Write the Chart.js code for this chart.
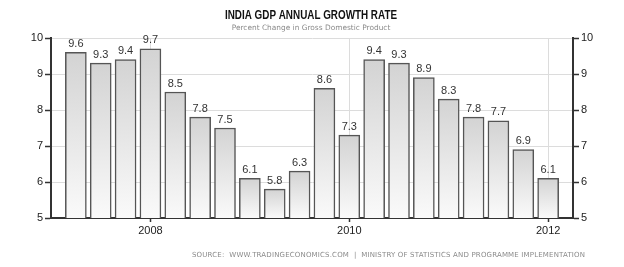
<!DOCTYPE html>
<html lang="en">
<head>
  <meta charset="UTF-8">
  <title>India GDP Annual Growth Rate</title>
  <script src="https://cdn.jsdelivr.net/npm/chart.js@4"></script>
  <style>
    * { margin: 0; padding: 0; box-sizing: border-box; }
    body { background: #fff; width: 624px; height: 267px; overflow: hidden; }
    canvas { display: block; }
  </style>
</head>
<body>
  <canvas id="gdp" width="624" height="267"></canvas>

  <script>
    const titleText = 'INDIA GDP ANNUAL GROWTH RATE'
    const subtitleText = 'Percent Change in Gross Domestic Product'
    const sourceText = 'SOURCE:  WWW.TRADINGECONOMICS.COM  |  MINISTRY OF STATISTICS AND PROGRAMME IMPLEMENTATION'

    const quarters = [
      '2007 Q2', '2007 Q3', '2007 Q4',
      '2008 Q1', '2008 Q2', '2008 Q3', '2008 Q4',
      '2009 Q1', '2009 Q2', '2009 Q3', '2009 Q4',
      '2010 Q1', '2010 Q2', '2010 Q3', '2010 Q4',
      '2011 Q1', '2011 Q2', '2011 Q3', '2011 Q4',
      '2012 Q1'
    ]
    const growth = [9.6, 9.3, 9.4, 9.7, 8.5, 7.8, 7.5, 6.1, 5.8, 6.3, 8.6, 7.3, 9.4, 9.3, 8.9, 8.3, 7.8, 7.7, 6.9, 6.1]
    const yearTicks = ['2008', '2010', '2012']
    const yTicks = [5, 6, 7, 8, 9, 10]

    const yearIdx = yearTicks.map(y => quarters.indexOf(y + ' Q1'))

    const barFill = ctx => {
      const chart = ctx.chart
      const ys = chart.scales.y
      if (!chart.chartArea || !ys) return '#e0e0e0'
      const top = ys.getPixelForValue(growth[ctx.dataIndex])
      const g = chart.ctx.createLinearGradient(0, top, 0, chart.chartArea.bottom)
      g.addColorStop(0, '#d3d3d3')
      g.addColorStop(1, '#fafafa')
      return g
    }

    // pick the font size that makes the text fill the given width
    const fitFont = (c, text, weight, family, width) => {
      let size = 14
      c.font = `${weight} ${size}px ${family}`
      size = size * width / c.measureText(text).width
      c.font = `${weight} ${size}px ${family}`
    }

    const labelsPlugin = {
      id: 'texts',
      afterDatasetsDraw(chart) {
        const c = chart.ctx
        const meta = chart.getDatasetMeta(0)
        c.save()
        c.font = '11px "Liberation Sans", Arial, sans-serif'
        c.fillStyle = '#333'
        c.textAlign = 'center'
        c.textBaseline = 'bottom'
        meta.data.forEach((bar, i) => {
          c.fillText(growth[i].toFixed(1), bar.x, bar.y - 3)
        })
        c.restore()
      },
      afterDraw(chart) {
        const c = chart.ctx
        c.save()
        c.textAlign = 'center'
        c.textBaseline = 'middle'
        c.fillStyle = '#111'
        // title: 12px bold, squeezed sideways to the narrow width of the original
        c.font = 'bold 12px "Liberation Sans", Arial, sans-serif'
        const tw = c.measureText(titleText).width
        c.save()
        c.translate(311, 16)
        c.scale(172 / tw, 1)
        c.fillText(titleText, 0, 0)
        c.restore()

        c.fillStyle = '#8a8a8a'
        fitFont(c, subtitleText, 'normal', '"DejaVu Sans", sans-serif', 159)
        c.fillText(subtitleText, 311, 28)

        c.font = '7px "DejaVu Sans", sans-serif'
        c.fillStyle = '#8a8a8a'
        c.textAlign = 'left'
        const w = c.measureText(sourceText).width
        const spacing = (393 - w) / (sourceText.length - 1)
        c.letterSpacing = spacing + 'px'
        c.fillText(sourceText, 192, 255)
        c.restore()
      }
    }

    const axisFont = { family: '"Liberation Sans", Arial, sans-serif', size: 11 }

    new Chart(document.getElementById('gdp'), {
      type: 'bar',
      data: {
        datasets: [{
          data: growth.map((v, i) => ({ x: i, y: v })),
          backgroundColor: barFill,
          borderColor: '#555',
          borderWidth: 1.5,
          borderSkipped: false,
          barThickness: 21
        }]
      },
      options: {
        responsive: false,
        animation: false,
        devicePixelRatio: 1,
        layout: { padding: { top: 38, left: 0, right: 0, bottom: 0 } },
        plugins: { legend: { display: false }, tooltip: { enabled: false } },
        scales: {
          x: {
            type: 'linear',
            offset: false,
            min: -1,
            max: quarters.length,
            afterBuildTicks: s => { s.ticks = yearIdx.map(v => ({ value: v })) },
            afterFit: s => { s.height = 49 },
            ticks: {
              color: '#222',
              font: axisFont,
              padding: 2,
              maxRotation: 0,
              callback: v => quarters[v] ? quarters[v].slice(0, 4) : ''
            },
            grid: {
              offset: false,
              color: '#dcdcdc',
              lineWidth: 1,
              borderDash: [1, 1],
              tickLength: 4,
              tickColor: '#333',
              tickWidth: 1.5,
              tickBorderDash: []
            },
            border: { display: true, color: '#333', width: 2 }
          },
          y: {
            position: 'left',
            min: 5,
            max: 10,
            afterBuildTicks: s => { s.ticks = yTicks.map(v => ({ value: v })) },
            afterFit: s => { s.width = 51 },
            ticks: { color: '#222', font: axisFont, padding: 2 },
            grid: {
              color: '#dcdcdc',
              lineWidth: 1,
              borderDash: [1, 1],
              tickLength: 6,
              tickColor: '#333',
              tickWidth: 1.5,
              tickBorderDash: []
            },
            border: { display: true, color: '#333', width: 2 }
          },
          y2: {
            position: 'right',
            display: true,
            min: 5,
            max: 10,
            afterBuildTicks: s => { s.ticks = yTicks.map(v => ({ value: v })) },
            afterFit: s => { s.width = 51 },
            ticks: { color: '#222', font: axisFont, padding: 2 },
            grid: {
              drawOnChartArea: false,
              tickLength: 6,
              tickColor: '#333',
              tickWidth: 1.5
            },
            border: { display: true, color: '#333', width: 2 }
          }
        }
      },
      plugins: [labelsPlugin]
    })
  </script>
</body>
</html>
